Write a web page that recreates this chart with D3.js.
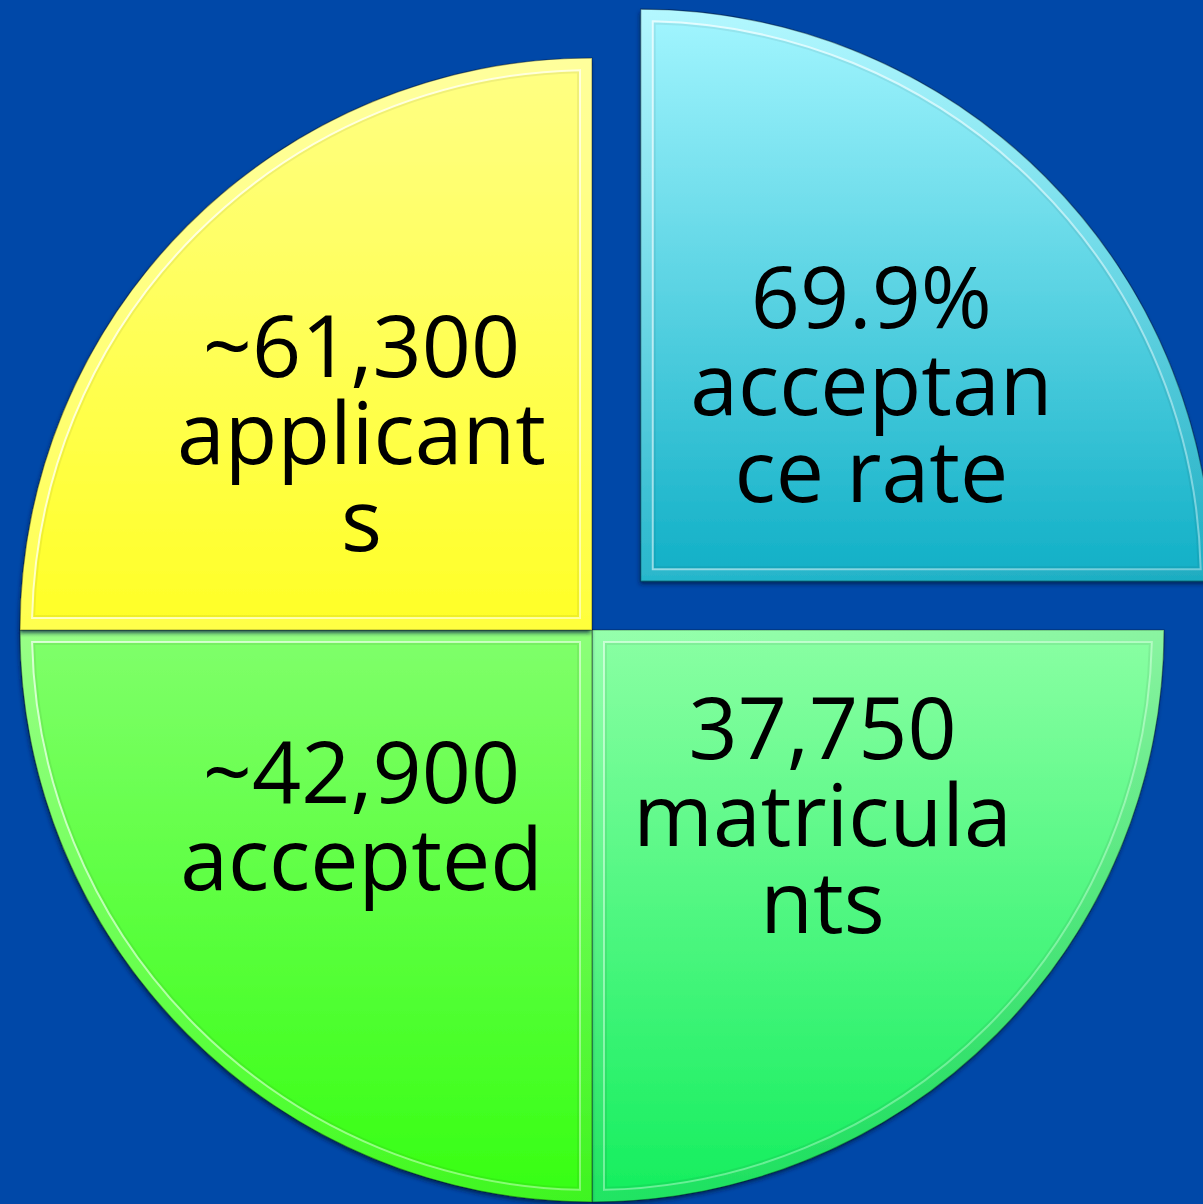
<!DOCTYPE html>
<html>
<head>
<meta charset="utf-8">
<script src="https://cdn.jsdelivr.net/npm/d3@7"></script>
<style>
  html, body { margin: 0; padding: 0; background: #0048a8; }
  svg { display: block; }
</style>
</head>
<body>
<svg id="chart" width="1203" height="1204"></svg>
<script>
// THE DATA
// four equal quarters, clockwise from 12 o'clock
const sliceNames = ["acceptance rate", "matriculants", "accepted", "applicants"];
const sliceValues = [1, 1, 1, 1];
// label text, broken into lines the way the original text boxes wrap
const labelLines = [
  ["69.9%", "acceptan", "ce rate"],
  ["37,750", "matricula", "nts"],
  ["~42,900", "accepted"],
  ["~61,300", "applicant", "s"]
];

// STYLE
const topColor = d3.scaleOrdinal().domain(sliceNames)
  .range(["#a3f6ff", "#8affa3", "#80ff6b", "#ffff85"]);
const bottomColor = d3.scaleOrdinal().domain(sliceNames)
  .range(["#10afc6", "#14ee5e", "#36ff12", "#ffff26"]);
const explodedSlice = "acceptance rate";
const explodeDist = 69;

// SETTING UP
const svg = d3.select("#chart");
const width = 1203, height = 1204;
const cx = 592, cy = 630, R = 572;
const bevel = 12;
const fontSize = 86, lineH = 87;

svg.append("rect")
  .attr("width", width).attr("height", height)
  .attr("fill", "#0048a8");

const pie = d3.pie().value(d => d.value).sort(null);
const slices = pie(sliceNames.map((name, i) => ({ name, value: sliceValues[i], lines: labelLines[i] })));

const arc = d3.arc().innerRadius(0).outerRadius(R);
const labelArc = d3.arc().innerRadius(R * 0.57).outerRadius(R * 0.57);

// inset outline of a slice (where the bevel ends)
function insetPath(d, inset) {
  const a0 = d.startAngle, a1 = d.endAngle;
  const mid = (a0 + a1) / 2;
  const half = (a1 - a0) / 2;
  const cd = inset / Math.sin(half);
  const r = R - inset;
  const delta = Math.asin(inset / r);
  const p = d3.path();
  p.moveTo(cd * Math.sin(mid), -cd * Math.cos(mid));
  p.lineTo(r * Math.sin(a0 + delta), -r * Math.cos(a0 + delta));
  p.arc(0, 0, r, a0 + delta - Math.PI / 2, a1 - delta - Math.PI / 2, false);
  p.closePath();
  return p.toString();
}

const defs = svg.append("defs");

const shadow = defs.append("filter").attr("id", "shadow")
  .attr("x", "-10%").attr("y", "-10%").attr("width", "120%").attr("height", "120%");
shadow.append("feDropShadow")
  .attr("dx", -1).attr("dy", 3).attr("stdDeviation", 2)
  .attr("flood-color", "#001a40").attr("flood-opacity", 0.75);

// light from top-left: lit edges up/left, shaded edges down/right
const bevelGrad = defs.append("linearGradient").attr("id", "bevelGrad")
  .attr("gradientUnits", "userSpaceOnUse")
  .attr("x1", -R).attr("y1", -R).attr("x2", R).attr("y2", R);
bevelGrad.append("stop").attr("offset", "0%").attr("stop-color", "#fff").attr("stop-opacity", 0.28);
bevelGrad.append("stop").attr("offset", "55%").attr("stop-color", "#fff").attr("stop-opacity", 0.08);
bevelGrad.append("stop").attr("offset", "100%").attr("stop-color", "#000").attr("stop-opacity", 0.12);

const lineGrad = defs.append("linearGradient").attr("id", "lineGrad")
  .attr("gradientUnits", "userSpaceOnUse")
  .attr("x1", -R).attr("y1", -R).attr("x2", R).attr("y2", R);
lineGrad.append("stop").attr("offset", "0%").attr("stop-color", "#fff").attr("stop-opacity", 0.85);
lineGrad.append("stop").attr("offset", "60%").attr("stop-color", "#fff").attr("stop-opacity", 0.45);
lineGrad.append("stop").attr("offset", "100%").attr("stop-color", "#fff").attr("stop-opacity", 0.2);

slices.forEach((d, i) => {
  const g = defs.append("linearGradient").attr("id", "fill-" + i)
    .attr("x1", 0).attr("y1", 0).attr("x2", 0).attr("y2", 1);
  g.append("stop").attr("offset", "0%").attr("stop-color", topColor(d.data.name));
  g.append("stop").attr("offset", "100%").attr("stop-color", bottomColor(d.data.name));
  defs.append("clipPath").attr("id", "clip-" + i)
    .append("path").attr("d", arc(d));
});

// SLICES
const groups = svg.selectAll("g.slice")
  .data(slices)
  .join("g")
  .attr("class", "slice")
  .attr("transform", d => {
    const off = d.data.name === explodedSlice ? explodeDist : 0;
    const mid = (d.startAngle + d.endAngle) / 2;
    return `translate(${cx + off * Math.sin(mid)},${cy - off * Math.cos(mid)})`;
  });

groups.append("path")
  .attr("d", arc)
  .attr("fill", (d, i) => `url(#fill-${i})`)
  .attr("filter", "url(#shadow)");

// bevel band along the edges
groups.append("path")
  .attr("d", arc)
  .attr("fill", "none")
  .attr("stroke", "url(#bevelGrad)")
  .attr("stroke-width", bevel * 2)
  .attr("stroke-linejoin", "miter")
  .attr("clip-path", (d, i) => `url(#clip-${i})`);

groups.append("path")
  .attr("d", d => insetPath(d, bevel))
  .attr("fill", "none")
  .attr("stroke", "url(#lineGrad)")
  .attr("stroke-width", 2);

groups.append("path")
  .attr("d", d => insetPath(d, bevel + 2))
  .attr("fill", "none")
  .attr("stroke", "#000")
  .attr("stroke-opacity", 0.06)
  .attr("stroke-width", 2);

groups.append("path")
  .attr("d", arc)
  .attr("fill", "none")
  .attr("stroke", "#000")
  .attr("stroke-opacity", 0.35)
  .attr("stroke-width", 1.2);

// LABELS
groups.append("text")
  .attr("font-family", "'Open Sans', sans-serif")
  .attr("font-size", fontSize)
  .attr("fill", "#000")
  .attr("text-anchor", "middle")
  .each(function (d) {
    const [lx, ly] = labelArc.centroid(d);
    const n = d.data.lines.length;
    // text boxes sit a bit closer to the horizontal divider than the centroid
    const yc = ly * 0.83;
    d3.select(this).selectAll("tspan")
      .data(d.data.lines)
      .join("tspan")
      .attr("x", lx)
      .attr("y", (t, k) => yc + (k - (n - 1) / 2) * lineH + fontSize * 0.29)
      .text(t => t);
  });
</script>
</body>
</html>
